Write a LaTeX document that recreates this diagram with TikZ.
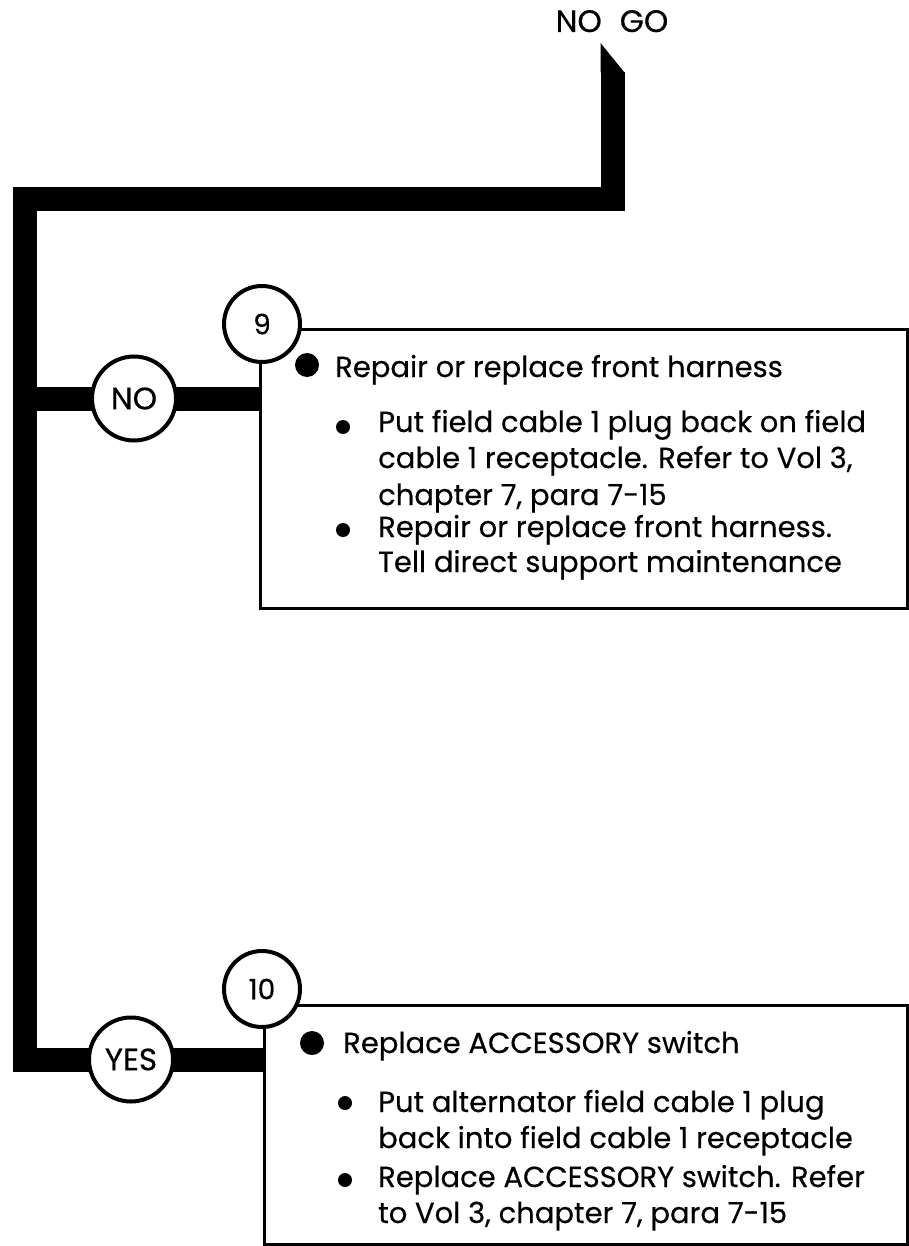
\documentclass[tikz,border=0pt]{standalone}
\usepackage{fontspec}
\setmainfont{Poppins}[FakeBold=0.4]
\begin{document}
\begin{tikzpicture}[x=1pt,y=-1pt,
  thickbar/.style={line width=24pt, line join=miter},
  circ/.style={circle, draw, line width=4pt, fill=white, inner sep=0pt, font=\fontsize{31}{31}\selectfont},
  boxstyle/.style={draw, line width=2.5pt, anchor=north west, inner sep=0pt},
  txt/.style={anchor=base west, inner sep=0pt, font=\fontsize{29}{29}\selectfont},
  bigdot/.style={circle, fill, inner sep=0pt, minimum size=24pt},
  smalldot/.style={circle, fill, inner sep=0pt, minimum size=14pt}]
\useasboundingbox (0,0) rectangle (909,1246);

% boxes
\node[boxstyle, minimum width=647pt, minimum height=279pt] (b1) at (259,328) {};
\node[boxstyle, minimum width=643pt, minimum height=239pt] (b2) at (263,1004) {};

% heading
\node[txt, anchor=base, font=\fontsize{31}{31}\selectfont] (nogo) at (612,32) {NO\hspace{18pt}GO};

% thick flow line
\coordinate (top) at (612.5,72);
\coordinate (c1) at (612.5,199);
\coordinate (c2) at (25,199);
\coordinate (c3) at (25,1059.5);
\coordinate (j1) at (25,398.5);
\fill (600.5,43) -- (624.5,72.5) -- (600.5,72.5) -- cycle;
\draw[thickbar] (top) -- (c1) -- (c2) -- (c3) -- (c3 -| b2.west);
\draw[thickbar] (j1) -- (j1 -| b1.west);

% circles
\node[circ, minimum size=84pt] (no) at (134,398.5) {NO};
\node[circ, minimum size=84pt] (yes) at (131,1059.5) {YES};
\node[circ, minimum size=76pt, font=\fontsize{28}{28}\selectfont] (n9) at (262,324) {9};
\node[circ, minimum size=76pt, font=\fontsize{28}{28}\selectfont] (n10) at (262,989) {10};

% box 1 text
\node[bigdot] (d1) at (307,365) {};
\node[txt] (t1) at (335,377) {Repair or replace front harness};
\node[smalldot] (d11) at (343,427) {};
\node[txt] (t11) at (378,432) {Put field cable 1 plug back on field};
\node[txt] (t12) at (378,468) {cable 1 receptacle. Refer to Vol 3,};
\node[txt] (t13) at (378,505) {chapter 7, para 7-15};
\node[smalldot] (d12) at (343,530) {};
\node[txt] (t14) at (378,537) {Repair or replace front harness.};
\node[txt] (t15) at (378,572) {Tell direct support maintenance};

% box 2 text
\node[bigdot] (d2) at (312,1043) {};
\node[txt] (t2) at (343,1053) {Replace ACCESSORY switch};
\node[smalldot] (d21) at (345,1103) {};
\node[txt] (t21) at (378,1112) {Put alternator field cable 1 plug};
\node[txt] (t22) at (378,1148) {back into field cable 1 receptacle};
\node[smalldot] (d22) at (345,1180) {};
\node[txt] (t23) at (378,1187) {Replace ACCESSORY switch. Refer};
\node[txt] (t24) at (378,1223) {to Vol 3, chapter 7, para 7-15};
\end{tikzpicture}
\end{document}
